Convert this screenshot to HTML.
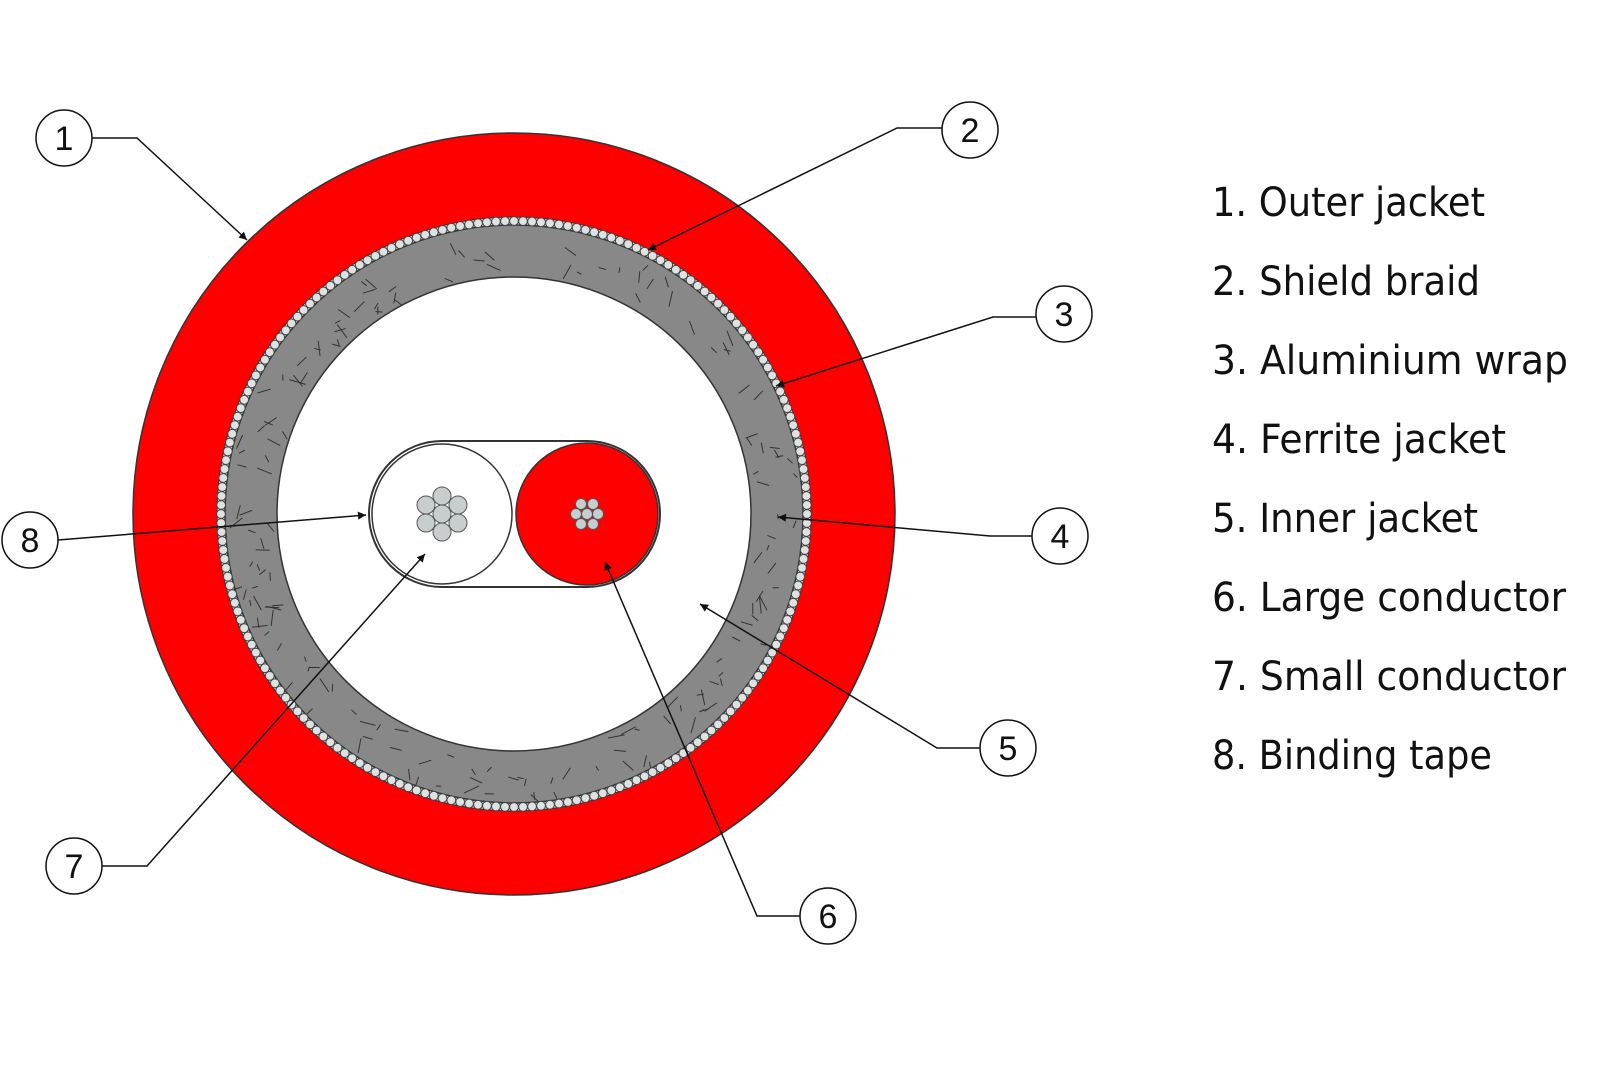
<!DOCTYPE html>
<html><head><meta charset="utf-8"><style>
html,body{margin:0;padding:0;background:#fff;width:1600px;height:1067px;overflow:hidden}
svg{display:block}
.lt{font-family:"DejaVu Sans Condensed","Liberation Sans",sans-serif;font-size:40px;fill:#111}
.nt{font-family:"Liberation Sans",sans-serif;font-size:34px;fill:#111;text-anchor:middle}
</style></head><body>
<svg id="s" width="1600" height="1067" viewBox="0 0 1600 1067" xmlns="http://www.w3.org/2000/svg">
<defs><marker id="a" viewBox="0 0 10 10" refX="10" refY="5" markerWidth="10" markerHeight="8" orient="auto" markerUnits="userSpaceOnUse"><path d="M0,0L10,5L0,10z" fill="#111"/></marker></defs>
<circle cx="514" cy="514" r="381" fill="#ff0000" stroke="#333" stroke-width="1.5"/>
<circle cx="514" cy="514" r="297" fill="#d8dcdc" stroke="#333" stroke-width="1"/>
<circle cx="514" cy="514" r="289" fill="#888" stroke="#333" stroke-width="1.5"/>
<g id="fib" stroke="#333" stroke-width="1" fill="none"></g>
<g id="beads" fill="#dde2e2" stroke="#444" stroke-width="1"></g>
<circle cx="514" cy="514" r="237" fill="#fff" stroke="#333" stroke-width="1.5"/>
<path d="M442,441 L587,441 A73,73 0 0 1 587,587 L442,587 A73,73 0 0 1 442,441 Z" fill="#fff" stroke="#333" stroke-width="2"/>
<circle cx="442" cy="514" r="70" fill="#fff" stroke="#333" stroke-width="1.5"/>
<circle cx="587" cy="514" r="71" fill="#ff0000" stroke="#333" stroke-width="1.5"/>
<g fill="#c8cece" stroke="#555" stroke-width="1">
<circle cx="442" cy="514" r="9"/><circle cx="442" cy="496" r="9"/><circle cx="442" cy="532" r="9"/>
<circle cx="426" cy="505" r="9"/><circle cx="458" cy="505" r="9"/><circle cx="426" cy="523" r="9"/><circle cx="458" cy="523" r="9"/>
<circle cx="587" cy="514" r="5.5"/><circle cx="581" cy="504" r="5.5"/><circle cx="593" cy="504" r="5.5"/>
<circle cx="576" cy="514" r="5.5"/><circle cx="598" cy="514" r="5.5"/><circle cx="581" cy="524" r="5.5"/><circle cx="593" cy="524" r="5.5"/>
</g>
<g stroke="#111" stroke-width="1.5" fill="none">
<polyline points="92,138 137,138 247,240" marker-end="url(#a)"/>
<polyline points="942,128 897,128 648,250" marker-end="url(#a)"/>
<polyline points="1036,317 993,317 776,386" marker-end="url(#a)"/>
<polyline points="1032,536 990,536 778,517" marker-end="url(#a)"/>
<polyline points="980,748 937,748 700,604" marker-end="url(#a)"/>
<polyline points="800,916 757,916 605,562" marker-end="url(#a)"/>
<polyline points="102,866 147,866 425,554" marker-end="url(#a)"/>
<polyline points="58,540 366,515" marker-end="url(#a)"/>
</g>
<g fill="#fff" stroke="#111" stroke-width="1.5">
<circle cx="64" cy="138" r="28"/><circle cx="970" cy="130" r="28"/><circle cx="1064" cy="314" r="28"/><circle cx="1060" cy="536" r="28"/>
<circle cx="1008" cy="748" r="28"/><circle cx="828" cy="916" r="28"/><circle cx="74" cy="866" r="28"/><circle cx="30" cy="540" r="28"/>
</g>
<g class="nt">
<text x="64" y="150">1</text><text x="970" y="142">2</text><text x="1064" y="326">3</text><text x="1060" y="548">4</text>
<text x="1008" y="760">5</text><text x="828" y="928">6</text><text x="74" y="878">7</text><text x="30" y="552">8</text>
</g>
<g class="lt">
<text x="1212" y="216" textLength="273" lengthAdjust="spacingAndGlyphs">1. Outer jacket</text>
<text x="1212" y="295" textLength="268" lengthAdjust="spacingAndGlyphs">2. Shield braid</text>
<text x="1212" y="374" textLength="356" lengthAdjust="spacingAndGlyphs">3. Aluminium wrap</text>
<text x="1212" y="453" textLength="294" lengthAdjust="spacingAndGlyphs">4. Ferrite jacket</text>
<text x="1212" y="532" textLength="266" lengthAdjust="spacingAndGlyphs">5. Inner jacket</text>
<text x="1212" y="611" textLength="354" lengthAdjust="spacingAndGlyphs">6. Large conductor</text>
<text x="1212" y="690" textLength="354" lengthAdjust="spacingAndGlyphs">7. Small conductor</text>
<text x="1212" y="769" textLength="280" lengthAdjust="spacingAndGlyphs">8. Binding tape</text>
</g>
</svg>
<script>
var ns="http://www.w3.org/2000/svg",b=document.getElementById("beads"),f=document.getElementById("fib");
var N=204;for(var i=0;i<N;i++){var t=i/N*2*Math.PI,c=document.createElementNS(ns,"circle");
c.setAttribute("cx",514+293*Math.cos(t));c.setAttribute("cy",514+293*Math.sin(t));c.setAttribute("r",4.4);b.appendChild(c);}
var s=7;function r(){s=(s*9301+49297)%233280;return s/233280;}
for(var k=0;k<160;k++){var t=r()*2*Math.PI,rr=245+r()*38,a=r()*Math.PI,l=5+r()*12;
var x=514+rr*Math.cos(t),y=514+rr*Math.sin(t),p=document.createElementNS(ns,"line");
p.setAttribute("x1",x);p.setAttribute("y1",y);p.setAttribute("x2",x+l*Math.cos(a));p.setAttribute("y2",y+l*Math.sin(a));f.appendChild(p);}
</script>
</body></html>
